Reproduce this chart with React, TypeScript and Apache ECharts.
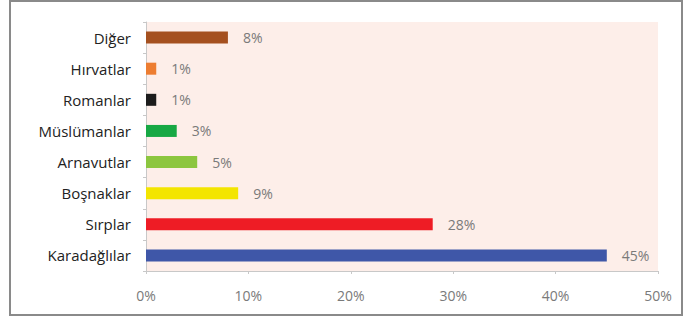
import React, { useEffect, useRef } from "react";
import * as echarts from "echarts";

const categories = ["Karadağlılar", "Sırplar", "Boşnaklar", "Arnavutlar", "Müslümanlar", "Romanlar", "Hırvatlar", "Diğer"];
const values = [45, 28, 9, 5, 3, 1, 1, 8];
const barColors = ["#3f57a8", "#ee1c25", "#f3e500", "#8cc63f", "#17a844", "#1c1c1c", "#ed7d31", "#a5501f"];
const xTicks = [0, 10, 20, 30, 40, 50];

export default function App() {
  const ref = useRef<HTMLDivElement>(null);
  useEffect(() => {
    document.body.style.margin = "0";
    const chart = echarts.init(ref.current!, null, { renderer: "svg" });
    chart.setOption({
      animation: false,
      textStyle: { fontFamily: "Open Sans" },
      graphic: [
        {
          type: "rect",
          shape: { x: 10, y: 1, width: 672, height: 314 },
          style: { fill: "none", stroke: "#8a8a8a", lineWidth: 2 },
          silent: true,
        },
      ],
      grid: {
        left: 146,
        right: 27,
        top: 22,
        bottom: 52,
        show: true,
        backgroundColor: "#fdeee9",
        borderWidth: 0,
      },
      xAxis: {
        type: "value",
        min: xTicks[0],
        max: xTicks[xTicks.length - 1],
        interval: 10,
        axisLine: { show: true, lineStyle: { color: "#c8c8c8" } },
        axisTick: { show: true, length: 3, lineStyle: { color: "#c8c8c8" } },
        splitLine: { show: false },
        axisLabel: { formatter: "{value}%", color: "#7a7a7a", fontSize: 14, margin: 17 },
      },
      yAxis: {
        type: "category",
        data: categories,
        axisLine: { show: true, lineStyle: { color: "#c8c8c8" } },
        axisTick: { show: true, length: 3, lineStyle: { color: "#c8c8c8" } },
        axisLabel: { color: "#222", fontSize: 15, margin: 15 },
      },
      series: [
        {
          type: "bar",
          data: values.map((v, i) => ({ value: v, itemStyle: { color: barColors[i] } })),
          barWidth: 12,
          label: {
            show: true,
            position: "right",
            distance: 15,
            formatter: "{c}%",
            color: "#7a7a7a",
            fontSize: 14,
          },
        },
      ],
    });
    return () => chart.dispose();
  }, []);
  return <div ref={ref} style={{ width: 685, height: 323 }} />;
}
